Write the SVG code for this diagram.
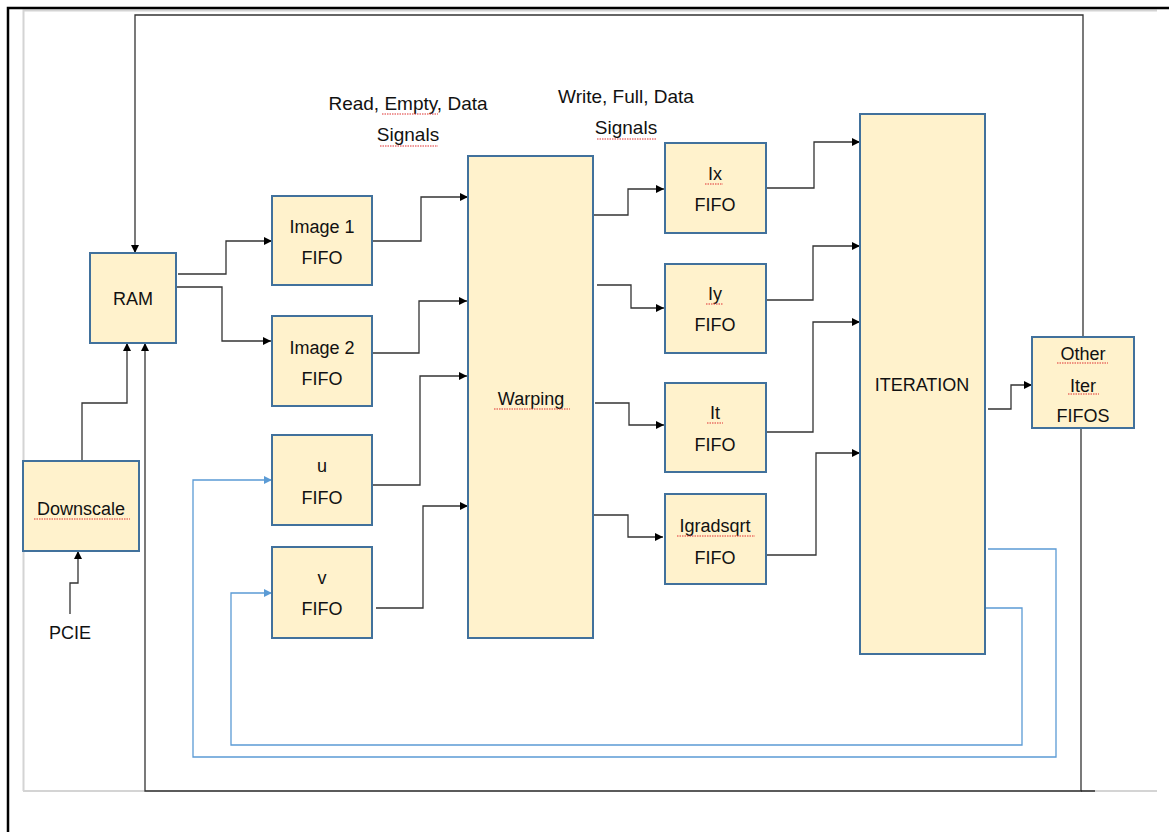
<svg xmlns="http://www.w3.org/2000/svg" width="1169" height="832" viewBox="0 0 1169 832">
<style>
.box{fill:#FFF2CC;stroke:#41719C;stroke-width:2}
.lbl{font-family:"Liberation Sans",Arial,sans-serif;font-size:18px;fill:#111;text-anchor:middle}
.sig{font-family:"Liberation Sans",Arial,sans-serif;font-size:19px;fill:#111;text-anchor:middle}
.c{fill:none;stroke:#333;stroke-width:1.3}
.cb{fill:none;stroke:#5B9BD5;stroke-width:1.3}
.sq{stroke:#E03030;stroke-width:1.2;stroke-dasharray:1.5 1;fill:none}
</style>
<defs>
<marker id="ah" markerUnits="userSpaceOnUse" markerWidth="9" markerHeight="9" refX="8" refY="4" orient="auto"><path d="M0,0 L8,4 L0,8 z" fill="#000"/></marker>
<marker id="ahb" markerUnits="userSpaceOnUse" markerWidth="9" markerHeight="9" refX="8" refY="4" orient="auto"><path d="M0,0 L8,4 L0,8 z" fill="#5B9BD5"/></marker>
</defs>
<rect width="1169" height="832" fill="#fff"/>
<g id="frame">
<path d="M23.5,791 V10.5 H1157" fill="none" stroke="#D4D4D4" stroke-width="2"/>
<path d="M23,791 H1157" fill="none" stroke="#D4D4D4" stroke-width="2"/>
<path d="M8,832 V8 H1169" fill="none" stroke="#000" stroke-width="2.5"/>
</g>
<g id="connectors">
<path class="c" d="M1083,337 V15 H135 V253" marker-end="url(#ah)"/>
<path class="c" d="M1081,428 V791 H145 V343" marker-end="url(#ah)"/>
<path d="M1081,791 H1095" stroke="#111" stroke-width="1.3"/>
<path class="c" d="M82,461 V403 H127 V343" marker-end="url(#ah)"/>
<path class="c" d="M70,614 V583 H78 V551" marker-end="url(#ah)"/>
<path class="c" d="M178,274 H226 V241 H272" marker-end="url(#ah)"/>
<path class="c" d="M176,287 H222 V341 H271" marker-end="url(#ah)"/>
<path class="c" d="M372,241 H421 V197 H468" marker-end="url(#ah)"/>
<path class="c" d="M372,353 H419 V301 H467" marker-end="url(#ah)"/>
<path class="c" d="M372,485 H420 V376 H467" marker-end="url(#ah)"/>
<path class="c" d="M376,608 H423 V506 H468" marker-end="url(#ah)"/>
<path class="c" d="M593,215 H628 V189 H664" marker-end="url(#ah)"/>
<path class="c" d="M597,285 H631 V308 H664" marker-end="url(#ah)"/>
<path class="c" d="M595,403 H629 V425 H664" marker-end="url(#ah)"/>
<path class="c" d="M593,515 H628 V537 H663" marker-end="url(#ah)"/>
<path class="c" d="M766,188 H814 V142 H860" marker-end="url(#ah)"/>
<path class="c" d="M766,300 H813 V246 H860" marker-end="url(#ah)"/>
<path class="c" d="M766,432 H813 V322 H860" marker-end="url(#ah)"/>
<path class="c" d="M766,555 H816 V453 H860" marker-end="url(#ah)"/>
<path class="c" d="M988,409 H1011 V385 H1032" marker-end="url(#ah)"/>
<path class="cb" d="M988,549 H1056 V757 H193 V480 H272" marker-end="url(#ahb)"/>
<path class="cb" d="M985,608 H1022 V745 H231 V593 H272" marker-end="url(#ahb)"/>
</g>
<g id="labels">
<text class="sig" x="408" y="110">Read, Empty, Data</text>
<text class="sig" x="408" y="141">Signals</text>
<text class="sig" x="626" y="103">Write, Full, Data</text>
<text class="sig" x="626" y="134">Signals</text>
<text class="lbl" x="70" y="639">PCIE</text>
<path class="sq" d="M382,114 H438 M380,146 H438 M597,139 H656"/>
</g>
<g id="ram"><rect class="box" x="90" y="253" width="86" height="90"/><text class="lbl" x="133" y="305">RAM</text></g>
<g id="downscale"><rect class="box" x="23" y="461" width="116" height="90"/><text class="lbl" x="81" y="515">Downscale</text><path class="sq" d="M34,519 H130"/></g>
<g id="image1"><rect class="box" x="272" y="196" width="100" height="89"/><text class="lbl" x="322" y="233">Image 1</text><text class="lbl" x="322" y="264">FIFO</text></g>
<g id="image2"><rect class="box" x="272" y="316" width="100" height="90"/><text class="lbl" x="322" y="354">Image 2</text><text class="lbl" x="322" y="385">FIFO</text></g>
<g id="u"><rect class="box" x="272" y="435" width="100" height="90"/><text class="lbl" x="322" y="472">u</text><text class="lbl" x="322" y="504">FIFO</text></g>
<g id="v"><rect class="box" x="272" y="547" width="100" height="91"/><text class="lbl" x="322" y="584">v</text><text class="lbl" x="322" y="615">FIFO</text></g>
<g id="warping"><rect class="box" x="468" y="156" width="125" height="482"/><text class="lbl" x="531" y="405">Warping</text><path class="sq" d="M494,409 H570"/></g>
<g id="ix"><rect class="box" x="665" y="143" width="101" height="90"/><text class="lbl" x="715" y="180">Ix</text><text class="lbl" x="715" y="211">FIFO</text><path class="sq" d="M705,184 H723"/></g>
<g id="iy"><rect class="box" x="665" y="264" width="101" height="89"/><text class="lbl" x="715" y="300">Iy</text><text class="lbl" x="715" y="331">FIFO</text><path class="sq" d="M706,304 H723"/></g>
<g id="it"><rect class="box" x="665" y="383" width="101" height="89"/><text class="lbl" x="715" y="419">It</text><text class="lbl" x="715" y="451">FIFO</text><path class="sq" d="M707,423 H723"/></g>
<g id="igradsqrt"><rect class="box" x="665" y="494" width="101" height="90"/><text class="lbl" x="715" y="532">Igradsqrt</text><text class="lbl" x="715" y="564">FIFO</text><path class="sq" d="M677,536 H755"/></g>
<g id="iteration"><rect class="box" x="860" y="114" width="125" height="540"/><text class="lbl" x="922" y="391">ITERATION</text></g>
<g id="other"><rect class="box" x="1032" y="337" width="102" height="91"/><text class="lbl" x="1083" y="360">Other</text><text class="lbl" x="1083" y="392">Iter</text><text class="lbl" x="1083" y="422">FIFOS</text><path class="sq" d="M1057,363 H1108 M1068,394 H1099"/></g>
</svg>
